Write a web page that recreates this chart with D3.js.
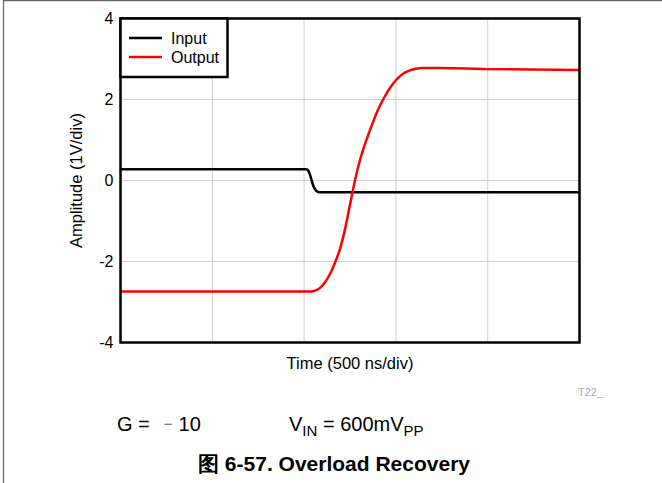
<!DOCTYPE html>
<html><head><meta charset="utf-8">
<script src="https://cdn.jsdelivr.net/npm/d3@7/dist/d3.min.js"></script>
<style>html,body{margin:0;padding:0;background:#fff;}svg{display:block;font-family:"Liberation Sans",Arial,sans-serif;}</style>
</head><body>
<script>
// Time in ns (500 ns/div, 5 divisions), amplitude in V
const inputTime = [0, 1010, 1020, 1030, 1040, 1050, 1060, 1070, 1085, 1110, 2500];
const inputVolt = [0.28, 0.28, 0.26, 0.17, 0.02, -0.13, -0.22, -0.27, -0.29, -0.29, -0.29];
const outputTime = [0, 1000, 1033, 1060, 1087, 1114, 1141, 1168, 1196, 1223, 1250, 1277, 1304, 1337, 1370, 1402, 1440, 1473, 1505, 1543, 1576, 1609, 1641, 1739, 1995, 2500];
const outputVolt = [-2.74, -2.74, -2.74, -2.72, -2.65, -2.51, -2.31, -2.03, -1.68, -1.2, -0.6, 0.0, 0.5, 0.97, 1.38, 1.74, 2.08, 2.32, 2.5, 2.65, 2.72, 2.76, 2.78, 2.78, 2.75, 2.73];
const yTicks = [-4, -2, 0, 2, 4];
const xGrid = [500, 1000, 1500, 2000];
const seriesNames = ["Input", "Output"];
const seriesColors = ["#000000", "#ff0000"];

const W = 662, H = 483;
const svg = d3.select("body").append("svg").attr("width", W).attr("height", H);

// page frame (left and top edges)
svg.append("line").attr("x1", 3.5).attr("x2", 3.5).attr("y1", 0).attr("y2", H).attr("stroke", "#666").attr("stroke-width", 1.2);
svg.append("line").attr("x1", 3).attr("x2", W).attr("y1", 0.6).attr("y2", 0.6).attr("stroke", "#666").attr("stroke-width", 1.2);

const L = 120.5, R = 579.5, T = 18.5, B = 342.5;
const x = d3.scaleLinear().domain([0, 2500]).range([L, R]);
const y = d3.scaleLinear().domain([-4, 4]).range([B, T]);

// grid
const g = svg.append("g");
g.selectAll(".hg").data(yTicks.filter(d => d > -4 && d < 4)).enter().append("line")
  .attr("x1", L).attr("x2", R).attr("y1", d => y(d)).attr("y2", d => y(d))
  .attr("stroke", "#d0d0d0").attr("stroke-width", 1);
g.selectAll(".vg").data(xGrid).enter().append("line")
  .attr("x1", d => x(d)).attr("x2", d => x(d)).attr("y1", T).attr("y2", B)
  .attr("stroke", "#d0d0d0").attr("stroke-width", 1);

// y axis labels
const yAxis = d3.axisLeft(y).tickValues(yTicks).tickSize(0).tickPadding(7).tickFormat(d => String(d));
const ya = svg.append("g").attr("transform", `translate(${L},0)`).call(yAxis);
ya.select(".domain").remove();
ya.selectAll("text").attr("font-size", 16).attr("fill", "#000").attr("font-family", "Liberation Sans, Arial, sans-serif");

// lines
const lineGen = d3.line().x(d => x(d[0])).y(d => y(d[1])).curve(d3.curveMonotoneX);
const inData = inputTime.map((t, i) => [t, inputVolt[i]]);
const outData = outputTime.map((t, i) => [t, outputVolt[i]]);
svg.append("path").datum(inData).attr("d", lineGen).attr("fill", "none").attr("stroke", seriesColors[0]).attr("stroke-width", 2.5);
svg.append("path").datum(outData).attr("d", lineGen).attr("fill", "none").attr("stroke", seriesColors[1]).attr("stroke-width", 2.5);

// frame
svg.append("rect").attr("x", L).attr("y", T).attr("width", R - L).attr("height", B - T)
  .attr("fill", "none").attr("stroke", "#000").attr("stroke-width", 2.5);

// legend
const lg = svg.append("g");
lg.append("rect").attr("x", L).attr("y", T).attr("width", 107).attr("height", 58.5)
  .attr("fill", "#fff").attr("stroke", "#000").attr("stroke-width", 2.5);
seriesNames.forEach((n, i) => {
  const yy = 38 + i * 19;
  lg.append("line").attr("x1", 129).attr("x2", 162).attr("y1", yy).attr("y2", yy)
    .attr("stroke", seriesColors[i]).attr("stroke-width", 2.5);
  lg.append("text").attr("x", 171).attr("y", yy + 6).attr("font-size", 16).text(n);
});

// axis titles
svg.append("text").attr("x", (L + R) / 2).attr("y", 369).attr("text-anchor", "middle")
  .attr("font-size", 16.5).text("Time (500 ns/div)");
svg.append("text").attr("transform", `translate(82,${(T + B) / 2}) rotate(-90)`).attr("text-anchor", "middle")
  .attr("font-size", 16.5).text("Amplitude (1V/div)");

svg.append("text").attr("x", 578).attr("y", 396).attr("font-size", 11).attr("fill", "#aaa").text("T22_");

// condition text
const gt = svg.append("text").attr("x", 117).attr("y", 431).attr("font-size", 20);
gt.append("tspan").text("G =");
gt.append("tspan").attr("dx", 14).attr("dy", -2).attr("fill", "#666").attr("font-size", 15).text("\u2212");
gt.append("tspan").attr("dx", 6).attr("dy", 2).text("10");
const vt = svg.append("text").attr("x", 289).attr("y", 431).attr("font-size", 20);
vt.append("tspan").text("V");
vt.append("tspan").attr("font-size", 15).attr("dy", 5).text("IN");
vt.append("tspan").attr("dy", -5).text(" = 600mV");
vt.append("tspan").attr("font-size", 15).attr("dy", 5).text("PP");

svg.append("text").attr("x", 334).attr("y", 471).attr("text-anchor", "middle")
  .attr("font-size", 21).attr("font-weight", "bold").text("图 6-57. Overload Recovery");
</script>
</body></html>
